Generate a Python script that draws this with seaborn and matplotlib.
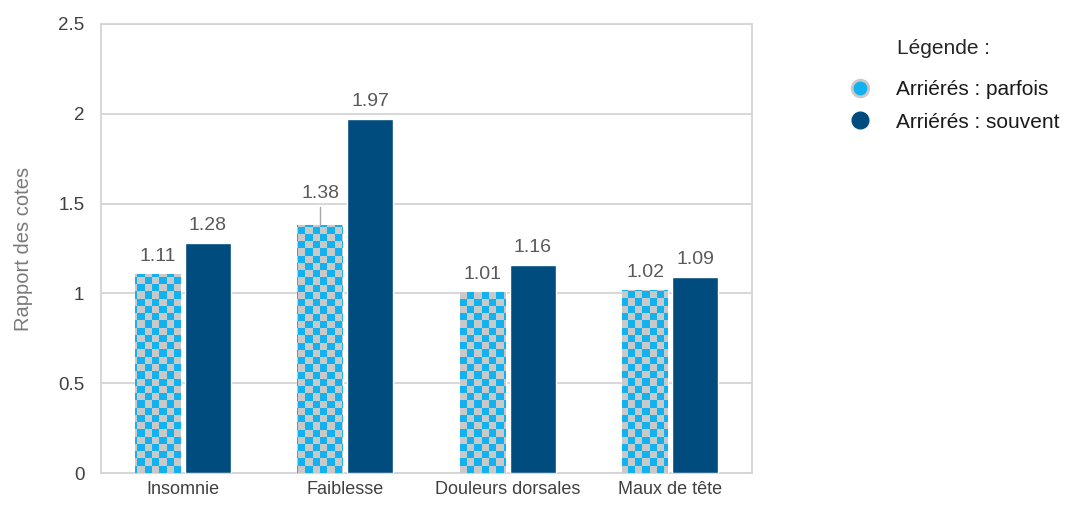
import numpy as np
import pandas as pd
import matplotlib
matplotlib.use("Agg")
import matplotlib.pyplot as plt
import seaborn as sns
from matplotlib.lines import Line2D

# data
symptomes = ["Insomnie", "Faiblesse", "Douleurs dorsales", "Maux de tête"]
parfois = [1.11, 1.38, 1.01, 1.02]
souvent = [1.28, 1.97, 1.16, 1.09]
series = ["Arriérés : parfois", "Arriérés : souvent"]

CYAN = "#12b2f0"
CHECK_GRAY = "#c9c9c9"
DARK = "#004c7e"
GRID = "#d4d4d4"
TXT = "#595959"

df = pd.DataFrame({
    "symptome": symptomes * 2,
    "serie": [series[0]] * 4 + [series[1]] * 4,
    "valeur": parfois + souvent,
})

sns.set_theme(style="white")
plt.rcParams["font.family"] = ["Liberation Sans", "DejaVu Sans"]

fig = plt.figure(figsize=(10.67, 5.05), dpi=100)
ax = fig.add_axes([101 / 1067, 1 - 473 / 505, 651 / 1067, 449 / 505])

sns.barplot(data=df, x="symptome", y="valeur", hue="serie",
            palette=[CYAN, DARK], width=0.615, gap=0.08,
            saturation=1, legend=False, ax=ax, zorder=3)

ax.set_xlim(-0.505, 3.505)
ax.set_ylim(0, 2.5)
ax.set_yticks([0, 0.5, 1, 1.5, 2, 2.5])
ax.set_yticklabels(["0", "0.5", "1", "1.5", "2", "2.5"])
ax.yaxis.grid(True, color=GRID, linewidth=1.3, zorder=0)
ax.set_axisbelow(True)
for s in ax.spines.values():
    s.set_color(GRID)
    s.set_linewidth(1.3)

ax.tick_params(axis="x", length=0, labelsize=13, colors="#404040", pad=6)
ax.tick_params(axis="y", length=0, labelsize=13.5, colors="#404040", pad=12)
ax.set_xlabel("")
ax.set_ylabel("Rapport des cotes", fontsize=14.5, color="#7a7a7a", labelpad=18)

# checkerboard fill for the "parfois" bars
ny, nx = 62, 89
checker = np.indices((ny, nx)).sum(axis=0) % 2
rgb_c = np.array(matplotlib.colors.to_rgb(CYAN))
rgb_g = np.array(matplotlib.colors.to_rgb(CHECK_GRAY))
img = np.where(checker[..., None] == 1, rgb_c, rgb_g)

bars = ax.patches
parfois_bars = bars[:4]
souvent_bars = bars[4:8]
for p in parfois_bars:
    im = ax.imshow(img, extent=(-0.505, 3.505, 0, 2.5), aspect="auto",
                   interpolation="nearest", zorder=4)
    im.set_clip_path(p)
ax.set_xlim(-0.505, 3.505)
ax.set_ylim(0, 2.5)

# value labels
for i, p in enumerate(parfois_bars):
    xc = p.get_x() + p.get_width() / 2
    v = parfois[i]
    if i == 1:
        ax.plot([xc, xc], [v, v + 0.1], color="#a6a6a6", lw=1, zorder=5)
        ax.text(xc, v + 0.13, f"{v:.2f}", ha="center", va="bottom",
                fontsize=14, color=TXT)
    else:
        ax.text(xc, v + 0.05, f"{v:.2f}", ha="center", va="bottom",
                fontsize=14, color=TXT)
for i, p in enumerate(souvent_bars):
    xc = p.get_x() + p.get_width() / 2
    v = souvent[i]
    ax.text(xc, v + 0.05, f"{v:.2f}", ha="center", va="bottom",
            fontsize=14, color=TXT)

handles = [
    Line2D([], [], marker="o", linestyle="", markersize=12,
           markerfacecolor=CYAN, markeredgecolor=CHECK_GRAY, markeredgewidth=2),
    Line2D([], [], marker="o", linestyle="", markersize=12,
           markerfacecolor=DARK, markeredgecolor=DARK),
]
leg = fig.legend(handles, series, title="Légende :", loc="upper left",
                 bbox_to_anchor=(847 / 1067, 1 - 39 / 505), frameon=False,
                 borderpad=0, borderaxespad=0,
                 fontsize=15, title_fontsize=15, handletextpad=1.15,
                 handlelength=1.2, labelspacing=0.64, alignment="left")
leg._legend_box.sep = 16
leg.get_title().set_position((50, 0))
for t in leg.get_texts():
    t.set_color("#1a1a1a")

fig.savefig("out.png", dpi=100)
